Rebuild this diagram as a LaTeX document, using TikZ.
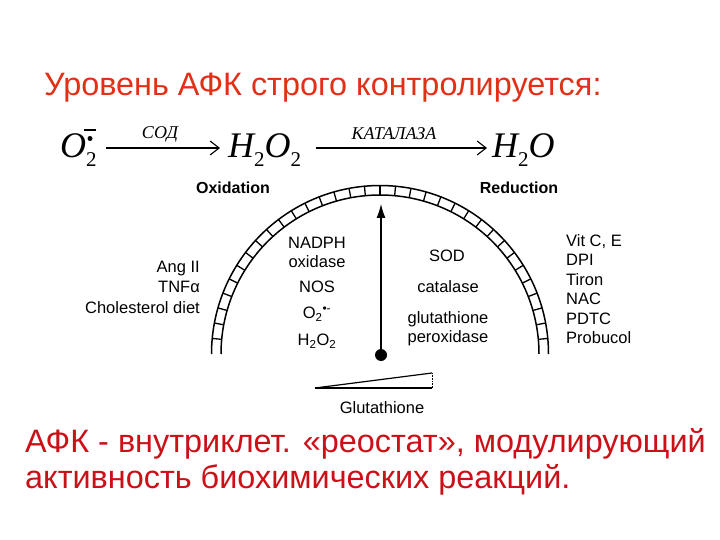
\documentclass[tikz,border=0pt]{standalone}
\usepackage{fontspec}
\setmainfont{Liberation Sans}
\newfontfamily\eqfont{Liberation Serif}
\usetikzlibrary{arrows.meta}
\definecolor{titlered}{RGB}{226,48,22}
\definecolor{bodyred}{RGB}{204,16,24}
\newcommand{\eqsub}[1]{\raisebox{-9pt}{\upshape\fontsize{21}{21}\selectfont #1}}
\begin{document}
\begin{tikzpicture}[x=1pt,y=-1pt,
  lbl/.style={font=\fontsize{16.5}{19}\selectfont, inner sep=0pt},
  head/.style={font=\bfseries\fontsize{16}{19}\selectfont, inner sep=0pt},
  eq/.style={font=\eqfont\itshape\fontsize{36}{40}\selectfont, inner sep=0pt, text height=26pt, text depth=6pt, anchor=base west},
  enz/.style={font=\eqfont\itshape\fontsize{18}{20}\selectfont, inner sep=0pt},
  rxn/.style={line width=1.1pt, -{Straight Barb[length=9pt,width=14pt]}},
  big/.style={font=\fontsize{32.4}{36}\selectfont, inner sep=0pt, anchor=base west},
  band/.style={line width=1.5pt},
]
\useasboundingbox (0,0) rectangle (720,540);
\fill[white] (0,0) rectangle (720,540);

% title
\node[big, text=titlered] (title) at (44,96) {Уровень АФК строго контролируется:};

% reaction
\node[eq] (o2) at (60,158) {O\eqsub{2}};
\draw[line width=1.8pt] (84,130) -- (96,130);
\fill (90,138.5) circle (2.5);
\node[eq] (h2o2) at (228,158) {H\eqsub{2}O\eqsub{2}};
\node[eq] (h2o) at (492,158) {H\eqsub{2}O};
\draw[rxn, shorten <=9pt, shorten >=8pt] (o2.east) -- (h2o2.west);
\draw[rxn, shorten <=15pt, shorten >=5pt] (h2o2.east) -- (h2o.west);
\node[enz] (sod) at (160,134) {СОД};
\node[enz] (kat) at (394,134) {КАТАЛАЗА};

% headings
\node[head] (ox) at (233,188) {Oxidation};
\node[head] (red) at (519,188) {Reduction};

% arc band
\draw[band] plot[domain=0:180, samples=120] ({380+168.5*cos(\x)},{354-168.5*sin(\x)});
\draw[band] plot[domain=0:180, samples=120] ({380+159*cos(\x)},{354-159*sin(\x)});
\foreach \k in {1,...,33} {
  \draw[line width=1.3pt] ({380+159*cos(\k*180/34)},{354-159*sin(\k*180/34)}) -- ({380+168.5*cos(\k*180/34)},{354-168.5*sin(\k*180/34)});
}

% needle
\node[circle, fill=black, minimum size=12pt, inner sep=0pt] (dot) at (381,355) {};
\coordinate (tip) at (381,204);
\draw[line width=1.2pt, -{Latex[length=14pt,width=9pt]}] (dot) -- (tip);

% left inner
\node[lbl] (nadph) at (317,243) {NADPH};
\node[lbl] (oxid) at (317,262) {oxidase};
\node[lbl] (nos) at (317,287) {NOS};
\node[lbl] (sup) at (317,314) {O\textsubscript{2}\textsuperscript{\large•-}};
\node[lbl] (hp) at (317,341) {H\textsubscript{2}O\textsubscript{2}};

% right inner
\node[lbl] (sodr) at (447,256) {SOD};
\node[lbl] (cat) at (448,287) {catalase};
\node[lbl] (glu) at (448,319) {glutathione};
\node[lbl] (perox) at (448,338) {peroxidase};

% left stimuli
\node[lbl, anchor=east, align=right, font=\fontsize{16.5}{20.5}\selectfont] (stim) at (200,287) {Ang II\\TNFα\\Cholesterol diet};

% right antioxidants
\node[lbl, anchor=west, align=left, font=\fontsize{16.5}{19.5}\selectfont] (anti) at (566,289) {Vit C, E\\DPI\\Tiron\\NAC\\PDTC\\Probucol};

% glutathione wedge
\coordinate (wl) at (315,388);
\coordinate (wr) at (432,388);
\coordinate (wt) at (432,373);
\draw[line width=1.2pt] (wl) -- (wt);
\draw[line width=1.8pt] (wl) -- (wr);
\draw[densely dotted, line width=0.6pt] (wt) -- (wr);
\node[lbl] (gsh) at (382,408) {Glutathione};

% bottom text
\node[big, text=bodyred] (body1) at (25,452) {АФК - внутриклет. «реостат», модулирующий};
\node[big, text=bodyred] (body2) at (25,488) {активность биохимических реакций.};
\end{tikzpicture}
\end{document}
